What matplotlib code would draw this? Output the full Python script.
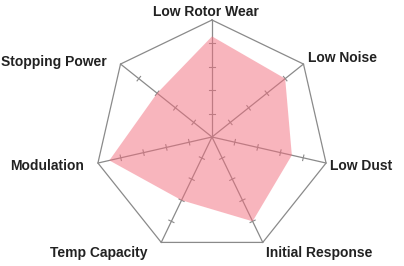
"""
Brake pad profile radar chart (7 criteria, 0-5 scale).
"""

import numpy as np
import matplotlib
matplotlib.use("Agg")
import matplotlib.pyplot as plt

categories = ["Low Rotor Wear", "Low Noise", "Low Dust", "Initial Response",
              "Temp Capacity", "Modulation", "Stopping Power"]
scores = [4.3, 4.0, 3.5, 4.0, 3.0, 4.5, 3.0]
scale_max = 5
tick_values = [1, 2, 3, 4]

GRID_COLOR = "#8a8a8a"
FILL_COLOR = "#f26d7d"
TEXT_COLOR = "#222222"

# label offsets from the outer vertex, in pixels (dx, dy, ha)
LABEL_OFFSETS = [(-6, 8, "center"), (5, 6, "left"), (4, -3, "left"),
                 (3, -11, "left"), (-14, -11, "right"), (-14, -3, "right"),
                 (-14, 2, "right")]

n = len(categories)
angles = np.pi / 2 - np.arange(n) * 2 * np.pi / n
ux, uy = np.cos(angles), np.sin(angles)

fig = plt.figure(figsize=(4.04, 2.66), dpi=100)
ax = fig.add_axes([0, 0, 1, 1])
px = 117 / scale_max  # pixels per unit
ax.set_xlim(-212 / px, (404 - 212) / px)
ax.set_ylim(-129 / px, 137 / px)
ax.set_aspect("equal")
ax.axis("off")

# ── Outer frame & spokes ────────────────────────────────────────────────
ax.plot(np.append(ux, ux[0]) * scale_max, np.append(uy, uy[0]) * scale_max,
        color=GRID_COLOR, lw=0.9, zorder=1)
for i in range(n):
    ax.plot([0, ux[i] * scale_max], [0, uy[i] * scale_max],
            color=GRID_COLOR, lw=0.9, zorder=1)
    # small cross ticks along the spoke
    for t in tick_values:
        cx, cy = ux[i] * t, uy[i] * t
        h = 0.12
        ax.plot([cx - uy[i] * h, cx + uy[i] * h], [cy + ux[i] * h, cy - ux[i] * h],
                color=GRID_COLOR, lw=0.8, zorder=1)

# ── Data polygon ────────────────────────────────────────────────────────
vals = np.array(scores)
ax.fill(ux * vals, uy * vals, color=FILL_COLOR, alpha=0.5, lw=0, zorder=2)

# ── Labels ──────────────────────────────────────────────────────────────
for i, label in enumerate(categories):
    dx, dy, ha = LABEL_OFFSETS[i]
    ax.annotate(label, xy=(ux[i] * scale_max, uy[i] * scale_max),
                xytext=(dx, dy), textcoords="offset pixels",
                ha=ha, va="center", fontsize=10, fontweight="bold",
                family="Liberation Sans", color=TEXT_COLOR)

fig.savefig("out.png", dpi=100)
plt.close(fig)
